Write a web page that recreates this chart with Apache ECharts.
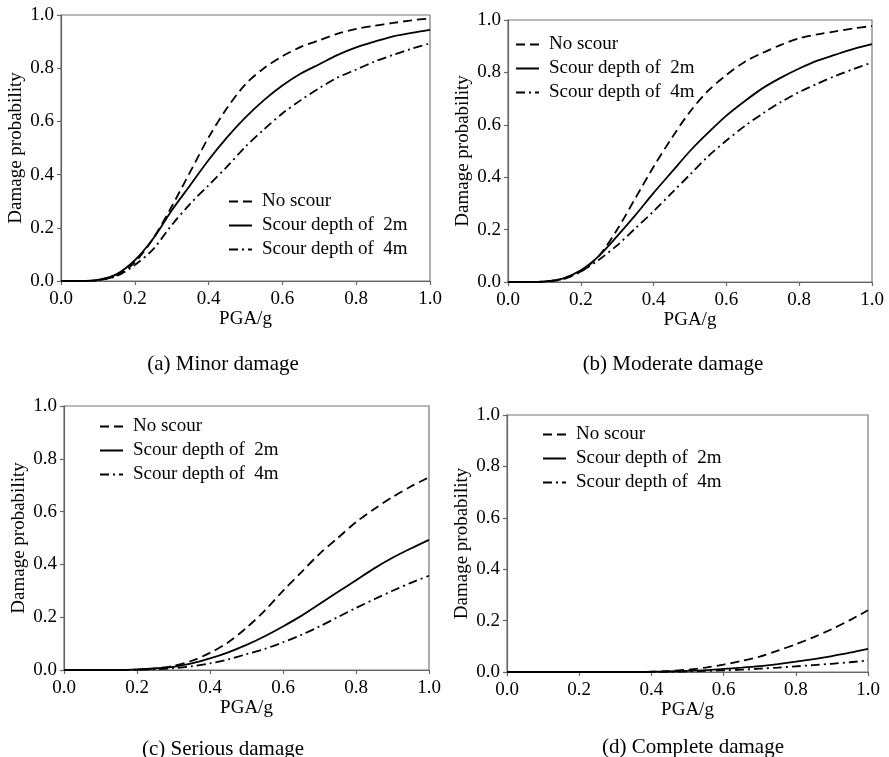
<!DOCTYPE html>
<html>
<head>
<meta charset="utf-8">
<script src="https://cdn.jsdelivr.net/npm/echarts@6/dist/echarts.min.js"></script>
<style>html,body{margin:0;padding:0;background:#fff}#c{width:889px;height:757px}</style>
</head>
<body>
<div id="c"></div>
<script>
// PGA values (g)
const pga = [0,0.05,0.1,0.15,0.2,0.25,0.3,0.35,0.4,0.45,0.5,0.55,0.6,0.65,0.7,0.75,0.8,0.85,0.9,0.95,1.0];
const seriesNames = ['No scour','Scour depth of  2m','Scour depth of  4m'];
const captions = ['(a) Minor damage','(b) Moderate damage','(c) Serious damage','(d) Complete damage'];
const xTicks = [0,0.2,0.4,0.6,0.8,1.0];
const yTicks = [0,0.2,0.4,0.6,0.8,1.0];

// (a) Minor damage
const minorNo  = [0,0,0.003,0.02,0.07,0.16,0.28,0.41,0.54,0.65,0.74,0.80,0.845,0.88,0.905,0.93,0.948,0.96,0.97,0.98,0.987];
const minor2m  = [0,0,0.004,0.025,0.078,0.16,0.265,0.36,0.455,0.54,0.615,0.68,0.735,0.78,0.815,0.85,0.878,0.90,0.92,0.933,0.944];
const minor4m  = [0,0,0.003,0.018,0.06,0.12,0.21,0.29,0.36,0.43,0.505,0.57,0.63,0.68,0.725,0.765,0.795,0.825,0.85,0.873,0.893];
// (b) Moderate damage
const modNo    = [0,0,0.001,0.01,0.04,0.10,0.20,0.32,0.44,0.55,0.65,0.73,0.79,0.84,0.875,0.905,0.93,0.945,0.957,0.968,0.977];
const mod2m    = [0,0,0.002,0.013,0.045,0.10,0.175,0.255,0.34,0.42,0.50,0.57,0.635,0.69,0.74,0.78,0.815,0.845,0.868,0.89,0.908];
const mod4m    = [0,0,0.002,0.012,0.04,0.085,0.14,0.205,0.27,0.34,0.41,0.48,0.54,0.595,0.643,0.687,0.725,0.757,0.787,0.813,0.838];
// (c) Serious damage
const serNo    = [0,0,0,0,0.001,0.006,0.016,0.035,0.065,0.105,0.16,0.225,0.30,0.37,0.44,0.50,0.56,0.61,0.655,0.695,0.73];
const ser2m    = [0,0,0,0,0.002,0.006,0.012,0.025,0.044,0.067,0.095,0.128,0.165,0.205,0.25,0.295,0.34,0.385,0.425,0.46,0.493];
const ser4m    = [0,0,0,0,0.001,0.003,0.007,0.014,0.025,0.04,0.06,0.08,0.105,0.133,0.165,0.20,0.235,0.268,0.30,0.33,0.357];
// (d) Complete damage
const comNo    = [0,0,0,0,0,0,0,0,0.001,0.004,0.009,0.017,0.029,0.043,0.06,0.083,0.108,0.136,0.167,0.202,0.24];
const com2m    = [0,0,0,0,0,0,0,0,0.001,0.002,0.004,0.007,0.012,0.017,0.023,0.031,0.04,0.05,0.062,0.075,0.09];
const com4m    = [0,0,0,0,0,0,0,0,0,0.001,0.002,0.004,0.006,0.009,0.013,0.017,0.022,0.027,0.032,0.038,0.045];

const panels = [[minorNo,minor2m,minor4m],[modNo,mod2m,mod4m],[serNo,ser2m,ser4m],[comNo,com2m,com4m]];

const FONT = 'Liberation Serif';
const grids = [
  {left:61, top:15, width:369, height:266},
  {left:508, top:20, width:364, height:262},
  {left:64, top:406, width:365, height:264},
  {left:507, top:415, width:361, height:257}
];
const legendPos = [
  {left:228, top:192},
  {left:515, top:35},
  {left:99, top:417},
  {left:542, top:425}
];
const captionPos = [
  {x:218, y:349}, {x:668, y:349}, {x:218, y:734}, {x:688, y:732}
];
const lineTypes = [[9,5],'solid',[9,4,2,4]];

const axisCommon = {
  type:'value', min:0, max:1, interval:0.2,
  axisLine:{show:true, lineStyle:{color:'#666', width:1.2}},
  axisTick:{show:true, inside:false, length:4, lineStyle:{color:'#666', width:1.2}},
  splitLine:{show:false},
  axisLabel:{color:'#000', fontFamily:FONT, fontSize:19, formatter:v=>v.toFixed(1)},
  nameLocation:'middle',
  nameTextStyle:{color:'#000', fontFamily:FONT, fontSize:19}
};

const option = {
  backgroundColor:'#fff',
  animation:false,
  grid: grids.map(g=>Object.assign({show:true, borderColor:'#777', borderWidth:1.2, backgroundColor:'transparent'}, g)),
  xAxis: grids.map((g,i)=>Object.assign({}, axisCommon, {gridIndex:i, name:'PGA/g', nameGap:28,
      axisLabel:Object.assign({}, axisCommon.axisLabel, {margin:9})})),
  yAxis: grids.map((g,i)=>Object.assign({}, axisCommon, {gridIndex:i, name:'Damage probability', nameGap:35,
      axisLabel:Object.assign({}, axisCommon.axisLabel, {margin:7})})),
  legend: legendPos.map(p=>({
    orient:'vertical', left:p.left, top:p.top, padding:0,
    itemWidth:23, itemHeight:14, itemGap:5,
    data:seriesNames, selectedMode:false,
    itemStyle:{opacity:0, borderWidth:0},
    textStyle:{color:'#000', fontFamily:FONT, fontSize:19, padding:[0,0,0,5]}
  })),
  title: captions.map((t,i)=>({
    text:t, left:captionPos[i].x, top:captionPos[i].y, textAlign:'center',
    textStyle:{color:'#000', fontFamily:FONT, fontSize:21, fontWeight:'normal'}
  })),
  series: []
};

panels.forEach((arrs,pi)=>{
  arrs.forEach((vals,si)=>{
    option.series.push({
      type:'line', name:seriesNames[si], xAxisIndex:pi, yAxisIndex:pi,
      symbol:'none', smooth:0.3,
      lineStyle:{color:'#000', width:1.8, type:lineTypes[si]},
      itemStyle:{color:'#000'},
      data: pga.map((x,k)=>[x, vals[k]])
    });
  });
});

const chart = echarts.init(document.getElementById('c'));
chart.setOption(option);
</script>
</body>
</html>
